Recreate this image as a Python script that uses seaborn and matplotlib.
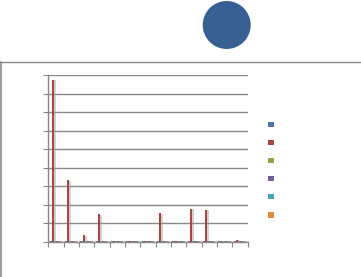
import matplotlib
matplotlib.use("Agg")
import matplotlib.pyplot as plt
import matplotlib.patheffects as pe
from matplotlib.lines import Line2D
from matplotlib.patches import Ellipse, Patch
import seaborn as sns
import pandas as pd
import numpy as np

# ---- data ----
categories = [f"C{i+1}" for i in range(13)]
series_names = ["S1", "S2", "S3", "S4", "S5", "S6"]
s1 = [0.05] * 13
s2 = [8.75, 3.35, 0.35, 1.5, 0.05, 0.05, 0.05, 1.55, 0.05, 1.8, 1.75, 0.05, 0.12]
s3 = [0.05] * 13
s4 = [0.05] * 13
s5 = [0.05] * 13
s6 = [0.05] * 13
series_values = [s1, s2, s3, s4, s5, s6]
colors = ["#4A76AC", "#AA4441", "#8BA64F", "#7A5C9C", "#46A2B9", "#E0893D"]

rows = []
for name, vals in zip(series_names, series_values):
    for c, v in zip(categories, vals):
        rows.append({"category": c, "series": name, "value": v})
df = pd.DataFrame(rows)

sns.set_style("white")
fig = plt.figure(figsize=(3.61, 2.77), dpi=100)
ax = fig.add_axes([0.1338, 0.1264, 0.5518, 0.6029])

sns.barplot(data=df, x="category", y="value", hue="series", order=categories,
            hue_order=series_names, palette=colors, width=0.8, saturation=1,
            ax=ax, errorbar=None, linewidth=0, legend=False)

for p in ax.patches:
    p.set_path_effects([pe.SimplePatchShadow(offset=(1.5, -0.5), shadow_rgbFace="#9a9a9a", alpha=0.45),
                        pe.Normal()])

grid_c = "#888888"
ax.set_ylim(0, 9)
ax.set_xlim(-0.5, 12.5)
ax.set_yticks(np.arange(0, 10, 1))
ax.set_xticks(np.arange(-0.5, 13, 1))
ax.set_xticklabels([])
ax.set_yticklabels([])
ax.set_xlabel("")
ax.set_ylabel("")
ax.yaxis.grid(True, color=grid_c, linewidth=1.0)
ax.xaxis.grid(False)
ax.set_axisbelow(True)
ax.tick_params(axis="both", which="both", direction="out", length=3.5, width=0.8,
               color=grid_c, left=True, bottom=True)
for s in ["top", "right"]:
    ax.spines[s].set_visible(False)
for s in ["left", "bottom"]:
    ax.spines[s].set_color(grid_c)
    ax.spines[s].set_linewidth(1.0)

# chart-area frame (top and left edges visible)
fig.add_artist(Line2D([0.0, 1.0], [1 - 61.5 / 277, 1 - 61.5 / 277], transform=fig.transFigure,
                      color="#8a8a8a", linewidth=1.0))
fig.add_artist(Line2D([0.0015, 0.0015], [0.0, 1 - 61.5 / 277], transform=fig.transFigure,
                      color="#8a8a8a", linewidth=1.2))

# decorative circle
fig.add_artist(Ellipse((226.7 / 361, 1 - 25 / 277), 48 / 361, 48 / 277, transform=fig.transFigure,
                       facecolor="#365F92", edgecolor="none"))

handles = [Patch(facecolor=c, edgecolor="none") for c in colors]
leg = fig.legend(handles, [" "] * 6, loc="upper left", bbox_to_anchor=(268 / 361, 1 - 121.5 / 277),
                 frameon=False, fontsize=4.3, handlelength=1.0, handleheight=1.0,
                 labelspacing=2.08, borderpad=0, borderaxespad=0, handletextpad=0.5)

fig.savefig("out.png", dpi=100)
